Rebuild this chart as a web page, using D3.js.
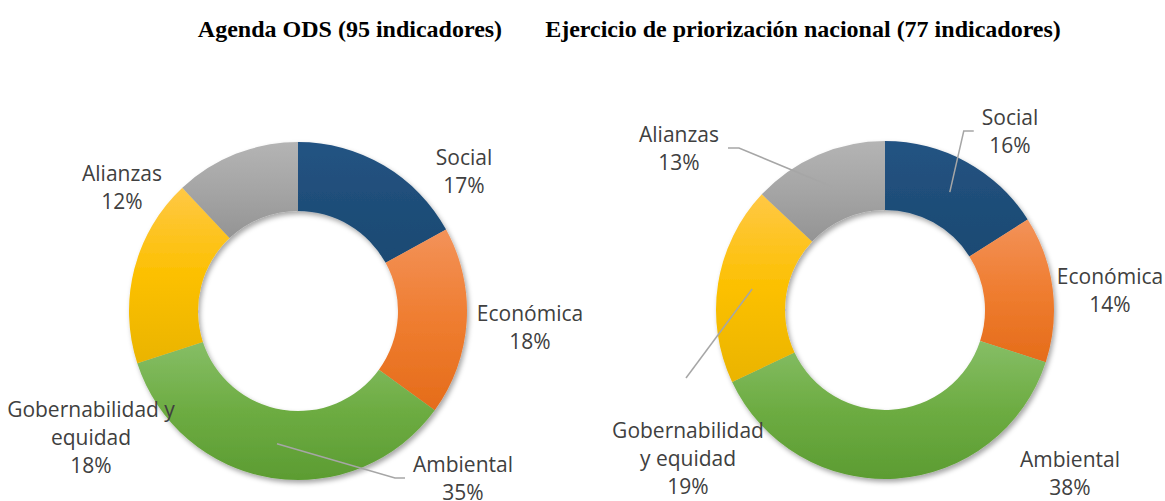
<!DOCTYPE html>
<html>
<head>
<meta charset="utf-8">
<script src="https://cdn.jsdelivr.net/npm/d3@7/dist/d3.min.js"></script>
<style>
  body { margin: 0; background: #fff; }
  .title { font-family: "Liberation Serif", "Times New Roman", serif; font-weight: bold; font-size: 24px; fill: #000; }
  .lbl { font-family: "Open Sans", "Noto Sans", sans-serif; font-size: 21px; fill: #404040; }
  .leader { fill: none; stroke: #a6a6a6; stroke-width: 1.5px; }
</style>
</head>
<body>
<div id="chart"></div>
<script>
// data
var categories = ["Social", "Económica", "Ambiental", "Gobernabilidad y equidad", "Alianzas"];
var odsValues = [17, 18, 35, 18, 12];
var nacionalValues = [16, 14, 38, 19, 13];
var chartTitles = ["Agenda ODS (95 indicadores)", "Ejercicio de priorización nacional (77 indicadores)"];

// label placement (offset of the label from the donut centre, first line baseline)
var odsLabels = [
    {dx: 166, dy: -146, lines: ["Social"]},
    {dx: 232, dy: 10, lines: ["Económica"]},
    {dx: 165, dy: 161, lines: ["Ambiental"], leader: "left"},
    {dx: -207, dy: 106, lines: ["Gobernabilidad y", "equidad"]},
    {dx: -176, dy: -130, lines: ["Alianzas"]}
];
var nacionalLabels = [
    {dx: 125, dy: -185, lines: ["Social"], leader: "left"},
    {dx: 225, dy: -26, lines: ["Económica"]},
    {dx: 185, dy: 157, lines: ["Ambiental"]},
    {dx: -197, dy: 128, lines: ["Gobernabilidad", "y equidad"], leader: "top"},
    {dx: -206, dy: -168, lines: ["Alianzas"], leader: "right"}
];

// top, middle, bottom of each slice gradient
var sliceColors = [
    ["#245383", "#1f4e79", "#1d4a73"],
    ["#f39259", "#ef7d30", "#e56c1a"],
    ["#86be66", "#6dac42", "#5c9c32"],
    ["#ffc845", "#fcc000", "#eab400"],
    ["#b4b4b4", "#a5a5a5", "#949494"]
];

var width = 1165, height = 501;
var innerR = 100, outerR = 169, lineH = 28;

var svg = d3.select("#chart").append("svg")
    .attr("width", width)
    .attr("height", height);

var defs = svg.append("defs");

sliceColors.forEach(function (c, i) {
    var grad = defs.append("linearGradient")
        .attr("id", "grad" + i)
        .attr("x1", 0).attr("y1", 0)
        .attr("x2", 0).attr("y2", 1);
    grad.append("stop").attr("offset", "0%").attr("stop-color", c[0]);
    grad.append("stop").attr("offset", "50%").attr("stop-color", c[1]);
    grad.append("stop").attr("offset", "100%").attr("stop-color", c[2]);
});

var shadow = defs.append("filter")
    .attr("id", "shadow")
    .attr("x", "-10%").attr("y", "-10%")
    .attr("width", "120%").attr("height", "120%");
shadow.append("feDropShadow")
    .attr("dx", 2).attr("dy", 3)
    .attr("stdDeviation", 2.5)
    .attr("flood-color", "#000")
    .attr("flood-opacity", 0.35);

var pie = d3.pie().sort(null).value(function (d) { return d; });
var arc = d3.arc().innerRadius(innerR).outerRadius(outerR);

function drawDonut(values, cx, cy, layout) {
    var g = svg.append("g").attr("transform", "translate(" + cx + "," + cy + ")");
    var arcs = pie(values);

    g.append("g")
        .attr("filter", "url(#shadow)")
        .selectAll("path")
        .data(arcs)
        .enter().append("path")
        .attr("d", arc)
        .attr("fill", function (d, i) { return "url(#grad" + i + ")"; });

    arcs.forEach(function (d, i) {
        var lab = layout[i];
        var text = g.append("text")
            .attr("class", "lbl")
            .attr("text-anchor", "middle");
        lab.lines.concat([d.value + "%"]).forEach(function (ln, k) {
            text.append("tspan")
                .attr("x", lab.dx)
                .attr("y", lab.dy + k * lineH)
                .text(ln);
        });

        if (!lab.leader) return;
        var start = arc.centroid(d);
        var box = text.node().getBBox();
        var firstW = text.select("tspan").node().getComputedTextLength();
        var pts;
        if (lab.leader === "left") {
            var left = lab.dx - firstW / 2;
            pts = [start, [left - 18, lab.dy + 6], [left - 8, lab.dy + 6]];
        } else if (lab.leader === "right") {
            var right = lab.dx + firstW / 2;
            pts = [start, [right + 20, lab.dy + 6], [right + 9, lab.dy + 6]];
        } else {
            pts = [start, [lab.dx - 2, box.y - 38]];
        }
        g.insert("path", "text")
            .attr("class", "leader")
            .attr("d", d3.line()(pts));
    });
}

svg.selectAll(".title")
    .data(chartTitles)
    .enter().append("text")
    .attr("class", "title")
    .attr("text-anchor", "middle")
    .attr("x", function (d, i) { return i === 0 ? 350 : 803; })
    .attr("y", 37)
    .text(function (d) { return d; });

drawDonut(odsValues, 298, 311, odsLabels);
drawDonut(nacionalValues, 885, 310, nacionalLabels);
</script>
</body>
</html>
